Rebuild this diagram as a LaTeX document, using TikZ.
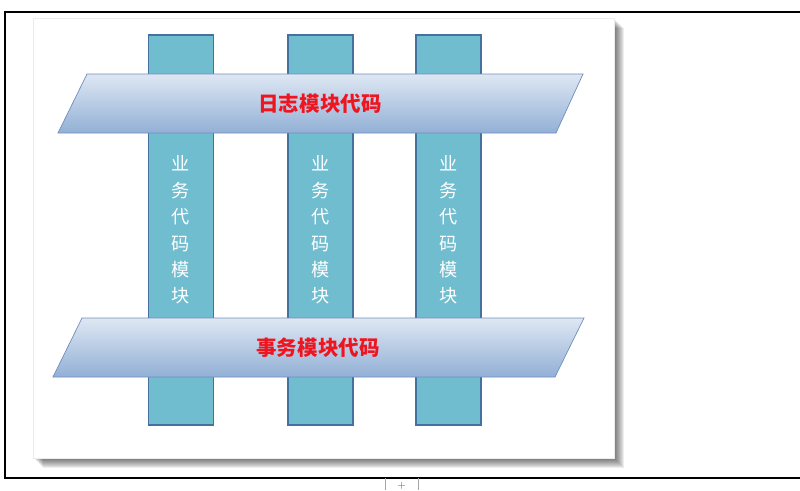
\documentclass[tikz,border=0pt]{standalone}
\usepackage{fontspec}
\usepackage{xcolor}
\usetikzlibrary{positioning, calc}
\newfontfamily\cjk{Noto Sans CJK SC}

\definecolor{colfill}{RGB}{112,189,208}
\definecolor{colline}{RGB}{70,112,160}
\definecolor{bandtop}{RGB}{222,231,243}
\definecolor{bandbot}{RGB}{146,176,214}
\definecolor{bandline}{RGB}{112,142,190}
\definecolor{labelred}{RGB}{240,20,30}

\tikzset{
    column/.style={draw=colline, line width=1.2pt, fill=colfill, minimum width=1.95cm, minimum height=11.7cm,
        inner sep=0pt, align=center, text=white, font=\cjk\fontsize{15.5}{22.6}\selectfont},
    band/.style={draw=bandline, line width=0.6pt, top color=bandtop, bottom color=bandbot},
    bandlabel/.style={text=labelred, font=\cjk\bfseries\fontsize{17.5}{20}\selectfont}
}

\begin{document}
\begin{tikzpicture}[x=0.03cm, y=-0.03cm]
    \useasboundingbox (0,0) rectangle (800,490);

    % Outer frame
    \draw[line width=0.9pt] (800,12) -- (5,12) -- (5,478) -- (800,478);
    \draw[gray!70, line width=0.4pt] (385,478) -- (385,490) (418,478) -- (418,490);
    \node[font=\small, gray!70!black] (plus) at (401.5,486) {+};

    % Panel with soft shadow
    \foreach \s in {1,...,10} {
        \fill[black, opacity=0.07] ({33+\s},{18+\s}) rectangle ({614+\s},{458+\s});
    }
    \fill[white] (33,18) rectangle (614,458);
    \draw[gray!15, line width=0.3pt] (33,18) rectangle (614,458);

    % Columns
    \node[column] (col1) at (181,230) {业\\务\\代\\码\\模\\块};
    \node[column] (col2) at (320.5,230) {业\\务\\代\\码\\模\\块};
    \node[column] (col3) at (448.5,230) {业\\务\\代\\码\\模\\块};

    % Log band
    \draw[band] (58,133) -- (87,74) -- (583,74) -- (556,133) -- cycle;
    \node[bandlabel] (log) at (320,104) {日志模块代码};

    % Transaction band
    \draw[band] (53,377) -- (82,318) -- (584,318) -- (555,377) -- cycle;
    \node[bandlabel] (tx) at (318,348) {事务模块代码};

\end{tikzpicture}
\end{document}
